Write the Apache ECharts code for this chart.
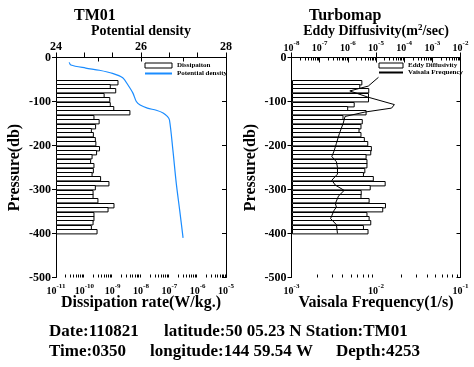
<!DOCTYPE html>
<html>
<head>
<meta charset="utf-8">
<script src="https://cdn.jsdelivr.net/npm/echarts@6/dist/echarts.min.js"></script>
<style>
html, body { margin: 0; padding: 0; background: #fff; }
#main { width: 474px; height: 367px; }
</style>
</head>
<body>
<div id="main"></div>
<script>
// 10 db bins, top of each bin
var depthTop = [-50, -60, -70, -80, -90, -100, -110, -120, -130, -140, -150, -160, -170, -180, -190,
    -200, -210, -220, -230, -240, -250, -260, -270, -280, -290, -300, -310, -320, -330, -340,
    -350, -360, -370, -380, -390];
var binSize = 10;

// dissipation rate (W/kg)
var dissipation = [1.48e-9, 7.9e-10, 1.23e-9, 4.8e-10, 7.6e-10, 7.9e-10, 1.05e-9, 3.9e-9, 2.1e-10, 3.2e-10,
    2.4e-10, 1.7e-10, 2.0e-10, 2.35e-10, 2.45e-10, 3.3e-10, 2.6e-10, 1.8e-10, 1.6e-10, 2.1e-10,
    2.0e-10, 1.8e-10, 3.6e-10, 7.1e-10, 2.35e-10, 1.95e-10, 1.95e-10, 2.9e-10, 1.07e-9, 6.6e-10,
    2.1e-10, 2.1e-10, 1.95e-10, 1.7e-10, 2.7e-10];

// eddy diffusivity (m2/sec)
var eddy = [2.9e-6, 2.45e-6, 5.1e-6, 5.0e-6, 5.0e-6, 1.55e-6, 9.1e-7, 4.1e-6, 6.2e-7, 3.0e-6,
    2.7e-6, 2.3e-6, 2.7e-6, 3.55e-6, 4.7e-6, 6.3e-6, 6.0e-6, 4.1e-6, 4.4e-6, 4.4e-6,
    3.7e-6, 3.3e-6, 7.4e-6, 1.95e-5, 5.75e-6, 2.75e-6, 2.7e-6, 5.25e-6, 2.0e-5, 1.6e-5,
    4.4e-6, 5.25e-6, 6.0e-6, 3.3e-6, 4.8e-6];

// potential density profile
var pdDepth = [-11, -17, -24, -29, -36, -46, -62, -81, -100, -108, -115, -120, -126, -134, -142, -210, -286, -347, -410];
var pdValue = [24.31, 24.35, 24.70, 25.02, 25.33, 25.57, 25.69, 25.81, 25.89, 25.98, 26.15, 26.36, 26.52, 26.62, 26.67, 26.75, 26.83, 26.91, 26.99];

// Vaisala frequency profile (1/s)
var nDepth = [-45, -65, -76, -90, -107, -115, -124, -134, -149, -172, -195, -212, -225, -237, -250, -265,
    -279, -290, -302, -315, -332, -340, -347, -366, -380, -400];
var nValue = [0.0107, 0.0081, 0.0049, 0.0080, 0.0165, 0.0153, 0.0074, 0.0043, 0.0041, 0.0037, 0.0034, 0.0032,
    0.0030, 0.0034, 0.0035, 0.0035, 0.0030, 0.0033, 0.0042, 0.0036, 0.0033, 0.0034, 0.0032, 0.0029, 0.0034, 0.0035];

var FONT = 'Liberation Serif';
var myChart = echarts.init(document.getElementById('main'));

function logLabel(v) {
    var e = Math.round(Math.log(v) / Math.LN10);
    return '{b|10}{s|' + e + '}';
}
function logRich(size) {
    return {
        b: { fontFamily: FONT, fontWeight: 'bold', fontSize: size, color: '#000', lineHeight: size + 4, verticalAlign: 'bottom' },
        s: { fontFamily: FONT, fontWeight: 'bold', fontSize: size - 3, color: '#000', lineHeight: size + 4, verticalAlign: 'top', padding: [0, 0, 5, 0] }
    };
}

function barRender(xMin) {
    return function (params, api) {
        var p0 = api.coord([xMin, api.value(1)]);
        var p1 = api.coord([api.value(0), api.value(1) - binSize]);
        return {
            type: 'rect',
            shape: { x: Math.round(p0[0]) + 0.5, y: Math.round(p0[1]) + 0.5, width: p1[0] - p0[0], height: p1[1] - p0[1] },
            style: { fill: '#fff', stroke: '#000', lineWidth: 1 }
        };
    };
}

// minor ticks 2..9 within each decade of a log axis
function minorTicks(lo, hi) {
    var out = [];
    for (var e = lo; e < hi; e++) {
        for (var k = 2; k <= 9; k++) out.push([k * Math.pow(10, e)]);
    }
    return out;
}
function tickRender(edge, dir) {
    return function (params, api) {
        var p = api.coord([api.value(0), edge]);
        var x = Math.round(p[0]) + 0.5;
        return { type: 'line', shape: { x1: x, y1: p[1], x2: x, y2: p[1] + dir * 3 }, style: { stroke: '#000', lineWidth: 1 } };
    };
}

var lineBlack = { show: true, lineStyle: { color: '#000', width: 1 } };
var nameStyle = { fontFamily: FONT, fontWeight: 'bold', fontSize: 14, color: '#000' };
var bigName = { fontFamily: FONT, fontWeight: 'bold', fontSize: 16, color: '#000' };
var yLabel = { fontFamily: FONT, fontWeight: 'bold', fontSize: 12, color: '#000', margin: 5 };

function yAxes(grid) {
    return [{
        type: 'value', gridIndex: grid, min: -500, max: 0, interval: 100,
        name: 'Pressure(db)', nameLocation: 'middle', nameGap: 33, nameTextStyle: bigName,
        axisLine: lineBlack, axisTick: { show: true, inside: false, length: 4, lineStyle: { color: '#000' } },
        axisLabel: yLabel, splitLine: { show: false }
    }, {
        type: 'value', gridIndex: grid, position: 'right', min: -500, max: 0, interval: 100,
        axisLine: lineBlack, axisTick: { show: true, inside: true, length: 4, lineStyle: { color: '#000' } },
        axisLabel: { show: false }, splitLine: { show: false }
    }];
}

var option = {
    backgroundColor: '#fff',
    animation: false,
    title: [
        { text: 'TM01', left: 69, top: 3, textStyle: { fontFamily: FONT, fontWeight: 'bold', fontSize: 16, color: '#000' } },
        { text: 'Turbomap', left: 304, top: 3, textStyle: { fontFamily: FONT, fontWeight: 'bold', fontSize: 16, color: '#000' } },
        { text: 'Date:110821', left: 44, top: 318, textStyle: { fontFamily: FONT, fontWeight: 'bold', fontSize: 17, color: '#000' } },
        { text: 'latitude:50 05.23 N Station:TM01', left: 159, top: 318, textStyle: { fontFamily: FONT, fontWeight: 'bold', fontSize: 17, color: '#000' } },
        { text: 'Time:0350', left: 44, top: 338, textStyle: { fontFamily: FONT, fontWeight: 'bold', fontSize: 17, color: '#000' } },
        { text: 'longitude:144 59.54 W', left: 145, top: 338, textStyle: { fontFamily: FONT, fontWeight: 'bold', fontSize: 17, color: '#000' } },
        { text: 'Depth:4253', left: 331, top: 338, textStyle: { fontFamily: FONT, fontWeight: 'bold', fontSize: 17, color: '#000' } }
    ],
    legend: [{
        left: 139, top: 57, orient: 'vertical', itemGap: 1, itemWidth: 27, itemHeight: 5,
        textStyle: { fontFamily: FONT, fontWeight: 'bold', fontSize: 7, color: '#000' },
        data: [
            { name: 'Dissipaiton', icon: 'rect', itemStyle: { color: '#fff', borderColor: '#000', borderWidth: 1 } },
            { name: 'Potential density', itemStyle: { opacity: 0 } }
        ]
    }, {
        left: 373, top: 57, orient: 'vertical', itemGap: 0, itemWidth: 24, itemHeight: 5,
        textStyle: { fontFamily: FONT, fontWeight: 'bold', fontSize: 7, color: '#000' },
        data: [
            { name: 'Eddy Diffusivity', icon: 'rect', itemStyle: { color: '#fff', borderColor: '#000', borderWidth: 1 } },
            { name: 'Vaisala Frequency', itemStyle: { opacity: 0 } }
        ]
    }],
    grid: [
        { left: 56, top: 57.5, width: 170, height: 220 },
        { left: 291.5, top: 57.5, width: 169, height: 220 }
    ],
    xAxis: [{
        type: 'log', gridIndex: 0, position: 'bottom', min: 1e-11, max: 1e-5, splitNumber: 6,
        name: 'Dissipation rate(W/kg.)', nameLocation: 'middle', nameGap: 17, nameMoveOverlap: false, nameTextStyle: bigName,
        axisLine: lineBlack, axisTick: { show: true, inside: true, length: 5, lineStyle: { color: '#000' } },
        axisLabel: { formatter: logLabel, rich: logRich(10), margin: 5 }, splitLine: { show: false }
    }, {
        type: 'value', gridIndex: 0, position: 'top', min: 24, max: 28, interval: 1,
        name: 'Potential density', nameLocation: 'middle', nameGap: 19, nameMoveOverlap: false, nameTextStyle: nameStyle,
        axisLine: lineBlack, axisTick: { show: true, inside: true, length: 4, lineStyle: { color: '#000' } },
        axisLabel: {
            fontFamily: FONT, fontWeight: 'bold', fontSize: 12, color: '#000', margin: 5,
            formatter: function (v) { return v % 2 === 0 ? String(v) : ''; }
        },
        splitLine: { show: false }
    }, {
        type: 'log', gridIndex: 1, position: 'bottom', min: 1e-3, max: 1e-1, splitNumber: 2,
        name: 'Vaisala Frequency(1/s)', nameLocation: 'middle', nameGap: 17, nameMoveOverlap: false, nameTextStyle: bigName,
        axisLine: lineBlack, axisTick: { show: true, inside: true, length: 5, lineStyle: { color: '#000' } },
        axisLabel: { formatter: logLabel, rich: logRich(10), margin: 5 }, splitLine: { show: false }
    }, {
        type: 'log', gridIndex: 1, position: 'top', min: 1e-8, max: 1e-2, splitNumber: 6,
        name: 'Eddy Diffusivity(m{s|2}/sec)', nameLocation: 'middle', nameGap: 19, nameMoveOverlap: false,
        nameTextStyle: {
            fontFamily: FONT, fontWeight: 'bold', fontSize: 14, color: '#000',
            rich: {
                s: { fontFamily: FONT, fontWeight: 'bold', fontSize: 9, color: '#000', verticalAlign: 'top', padding: [0, 0, 6, 0] }
            }
        },
        axisLine: lineBlack, axisTick: { show: true, inside: true, length: 5, lineStyle: { color: '#000' } },
        axisLabel: { formatter: logLabel, rich: logRich(10), margin: 4 }, splitLine: { show: false }
    }],
    yAxis: yAxes(0).concat(yAxes(1)),
    series: [{
        name: 'Dissipaiton', type: 'custom', xAxisIndex: 0, yAxisIndex: 0,
        itemStyle: { color: '#fff', borderColor: '#000' },
        renderItem: barRender(1e-11), encode: { x: 0, y: 1 },
        data: dissipation.map(function (v, i) { return [v, depthTop[i]]; })
    }, {
        name: 'Potential density', type: 'line', xAxisIndex: 1, yAxisIndex: 0,
        smooth: 0.3, symbol: 'none', lineStyle: { color: '#1a8cff', width: 1.2 }, itemStyle: { color: '#1a8cff' },
        data: pdValue.map(function (v, i) { return [v, pdDepth[i]]; })
    }, {
        name: 'Eddy Diffusivity', type: 'custom', xAxisIndex: 3, yAxisIndex: 2,
        itemStyle: { color: '#fff', borderColor: '#000' },
        renderItem: barRender(1e-8), encode: { x: 0, y: 1 },
        data: eddy.map(function (v, i) { return [v, depthTop[i]]; })
    }, {
        name: 'Vaisala Frequency', type: 'line', xAxisIndex: 2, yAxisIndex: 2,
        symbol: 'none', lineStyle: { color: '#000', width: 1 }, itemStyle: { color: '#000' },
        data: nValue.map(function (v, i) { return [v, nDepth[i]]; })
    }, {
        name: 'minor-l-bottom', type: 'custom', xAxisIndex: 0, yAxisIndex: 0, silent: true,
        renderItem: tickRender(-500, -1), encode: { x: 0 }, data: minorTicks(-11, -5)
    }, {
        name: 'minor-r-bottom', type: 'custom', xAxisIndex: 2, yAxisIndex: 2, silent: true,
        renderItem: tickRender(-500, -1), encode: { x: 0 }, data: minorTicks(-3, -1)
    }, {
        name: 'minor-r-top', type: 'custom', xAxisIndex: 3, yAxisIndex: 2, silent: true,
        renderItem: tickRender(0, 1), encode: { x: 0 }, data: minorTicks(-8, -2)
    }]
};
myChart.setOption(option);
</script>
</body>
</html>
